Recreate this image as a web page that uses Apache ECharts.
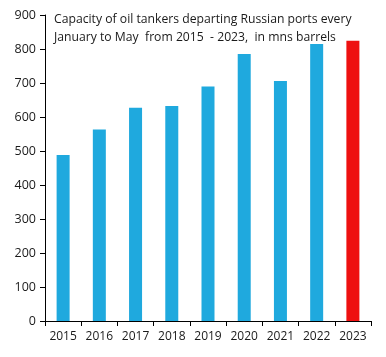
<!DOCTYPE html>
<html><head><meta charset="utf-8">
<script src="https://cdn.jsdelivr.net/npm/echarts@6/dist/echarts.min.js"></script>
<style>html,body{margin:0;padding:0;background:#fff}#c{width:386px;height:357px}</style>
</head><body><div id="c"></div>
<script>
const categories = ['2015','2016','2017','2018','2019','2020','2021','2022','2023'];
const values = [488, 563, 627, 632, 690, 785, 706, 815, 824];
const titleLines = ['Capacity of oil tankers departing Russian ports every', 'January to May  from 2015  - 2023,  in mns barrels'];
const blue = '#1FA9DE', red = '#EE1111';
const chart = echarts.init(document.getElementById('c'));
chart.setOption({
  animation: false,
  backgroundColor: '#fff',
  title: {
    text: titleLines.join('\n'),
    left: 49, top: 6,
    textStyle: {fontFamily: 'Open Sans', fontSize: 12.2, fontWeight: 'normal', color: '#1a1a1a', lineHeight: 18}
  },
  grid: {left: 45, right: 15, top: 15, bottom: 36, containLabel: false},
  xAxis: {
    type: 'category', data: categories, boundaryGap: true,
    axisLine: {lineStyle: {color: '#000', width: 1}},
    axisTick: {show: true, length: 5, interval: 0, lineStyle: {color: '#000'}, alignWithLabel: false},
    axisLabel: {interval: 0, color: '#1a1a1a', fontFamily: 'Open Sans', fontSize: 12, margin: 10}
  },
  yAxis: {
    type: 'value', min: 0, max: 900, interval: 100,
    axisLine: {show: true, lineStyle: {color: '#000', width: 1}},
    axisTick: {show: true, length: 5, lineStyle: {color: '#000'}},
    splitLine: {show: false},
    axisLabel: {color: '#1a1a1a', fontFamily: 'Open Sans', fontSize: 12.5, margin: 9}
  },
  series: [{
    type: 'bar', barWidth: 13,
    data: values.map((v, i) => ({value: v, itemStyle: {color: i === values.length - 1 ? red : blue}}))
  }]
});
</script></body></html>
